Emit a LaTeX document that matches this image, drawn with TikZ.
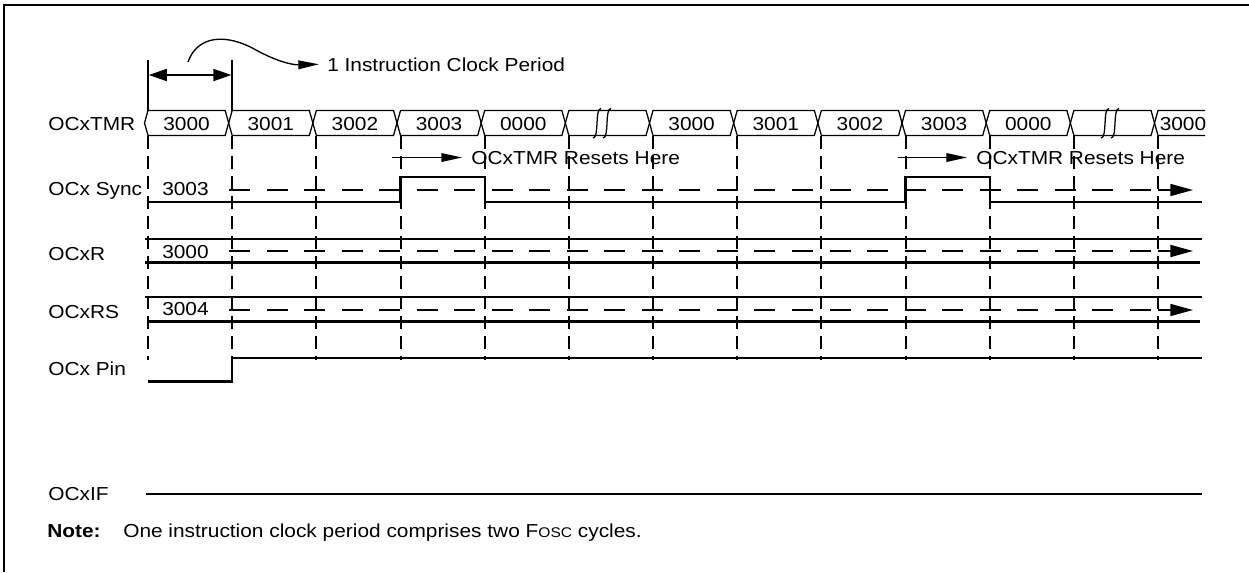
\documentclass[tikz,border=0pt]{standalone}
\usepackage{fontspec}
\setmainfont{Liberation Sans}[FakeStretch=1.11]
\usetikzlibrary{arrows.meta}
\begin{document}
\begin{tikzpicture}[x=0.75pt,y=-0.75pt,
  txt/.style={inner sep=0pt,font=\fontsize{14.1}{16}\selectfont},
  lbl/.style={txt,anchor=base west},
  val/.style={txt,anchor=base},
  sig/.style={line width=1.65pt},
  thinsig/.style={line width=1pt},
  busl/.style={line width=0.95pt},
  gridl/.style={line width=1.5pt,dash pattern=on 9.75pt off 5.25pt},
  hdash/.style={line width=1.5pt,dash pattern=on 15.75pt off 12.4pt},
  endarrow/.style={line width=1.2pt,-{Triangle[length=17pt,width=9pt]}},
  thinarrow/.style={line width=1pt,-{Triangle[length=15.5pt,width=6.5pt]}},
]
\useasboundingbox (0,0) rectangle (1249,572);
% frame
\draw[line width=1.6pt] (4,572) -- (4,5) -- (1249,5);

% vertical dashed grid
\foreach \i in {0,...,12} {
  \draw[gridl] ({148+84.17*\i},136) -- ({148+84.17*\i},360);
}

% OCxTMR bus
\node[lbl] (ltmr) at (48,130.5) {OCxTMR};
\foreach \i/\t in {0/3000,1/3001,2/3002,3/3003,4/0000,6/3000,7/3001,8/3002,9/3003,10/0000} {
  \pgfmathsetmacro\a{148+84.17*\i}
  \pgfmathsetmacro\b{\a+84.17}
  \draw[busl] ({\a-3.5},123) -- (\a,110.5) -- ({\b-7},110.5) -- ({\b-3.5},123) -- ({\b-7},135.5) -- (\a,135.5) -- cycle;
  \node[val] (v\i) at ({(\a+\b-7)/2},130) {\t};
}
\foreach \i/\sa/\sb in {5/597/607,11/1105/1115} {
  \pgfmathsetmacro\a{148+84.17*\i}
  \pgfmathsetmacro\b{\a+84.17}
  \draw[busl] ({\a-3.5},123) -- (\a,110.5) -- ({\b-7},110.5) -- ({\b-3.5},123) -- ({\b-7},135.5) -- (\a,135.5) -- cycle;
  \foreach \s in {\sa,\sb} {
    \draw[busl] ({\s+4},108.5) .. controls ({\s-2.5},108.5) and ({\s+2.5},138) .. ({\s-4},138);
  }
}
\draw[busl] (1205,110.5) -- (1158,110.5) -- (1154.5,123) -- (1158,135.5) -- (1205,135.5);
\node[lbl] (v12) at (1159.5,130) {3000};

% clock period marker
\coordinate (cpa) at (148,60);
\coordinate (cpb) at (232.2,60);
\draw[line width=1.2pt] (cpa) -- (148,110.5);
\draw[line width=1.2pt] (cpb) -- (232.2,110.5);
\draw[line width=1.2pt,{Triangle[length=13.5pt,width=9pt]}-{Triangle[length=13.5pt,width=9pt]}] (148.8,75) -- (231.4,75);
\node[lbl] (icp) at (327,71) {1 Instruction Clock Period};
\coordinate (cs) at (188,62);
\draw[thinarrow] (cs) .. controls (198,34) and (228,34) .. (256,50) .. controls (276,61) and (292,65) .. ([xshift=-6pt]icp.west);

% resets here
\node[lbl] (rh1) at (471,164.3) {OCxTMR Resets Here};
\node[lbl] (rh2) at (976,164.3) {OCxTMR Resets Here};
\coordinate (r1) at (392,157.5);
\coordinate (r2) at (898,157.5);
\draw[thinarrow] (r1) -- (462,157.5);
\draw[thinarrow] (r2) -- (967,157.5);

% OCx Sync
\node[lbl] (lsync) at (48,195) {OCx Sync};
\node[val] (vs) at (185.5,195) {3003};
\draw[hdash] (229,190) -- (1158,190);
\draw[endarrow] (1158,190) -- (1193,190);
\draw[thinsig] (148,202) -- (400.5,202);
\draw[sig] (400.5,202) -- (400.5,177) -- (484.7,177) -- (484.7,202) -- (905.5,202) -- (905.5,177) -- (989.7,177) -- (989.7,202) -- (1202,202);

% OCxR
\node[lbl] (lr) at (48,260) {OCxR};
\node[val] (vr) at (185.5,258) {3000};
\draw[sig] (145,239) -- (1202,239);
\draw[sig] (145,262.5) -- (1200,262.5);
\draw[hdash] (229,251) -- (1158,251);
\draw[endarrow] (1158,251) -- (1193,251);

% OCxRS
\node[lbl] (lrs) at (48,318.5) {OCxRS};
\node[val] (vrs) at (185.5,315) {3004};
\draw[sig] (145,297) -- (1202,297);
\draw[sig] (147,321.5) -- (1200,321.5);
\draw[hdash] (229,310) -- (1158,310);
\draw[endarrow] (1158,310) -- (1193,310);

% OCx Pin
\node[lbl] (lpin) at (48,375) {OCx Pin};
\draw[sig] (148,381.5) -- (232.2,381.5) -- (232.2,358) -- (1202,358);

% OCxIF
\node[lbl] (lif) at (48,500.5) {OCxIF};
\draw[sig] (146,494) -- (1202,494);

% Note
\node[lbl,font=\fontsize{14.1}{16}\selectfont\bfseries] (nt) at (47,537) {Note:};
\node[lbl] (ntx) at (123,537) {One instruction clock period comprises two F{\fontsize{10.5}{12}\selectfont OSC} cycles.};
\end{tikzpicture}
\end{document}
